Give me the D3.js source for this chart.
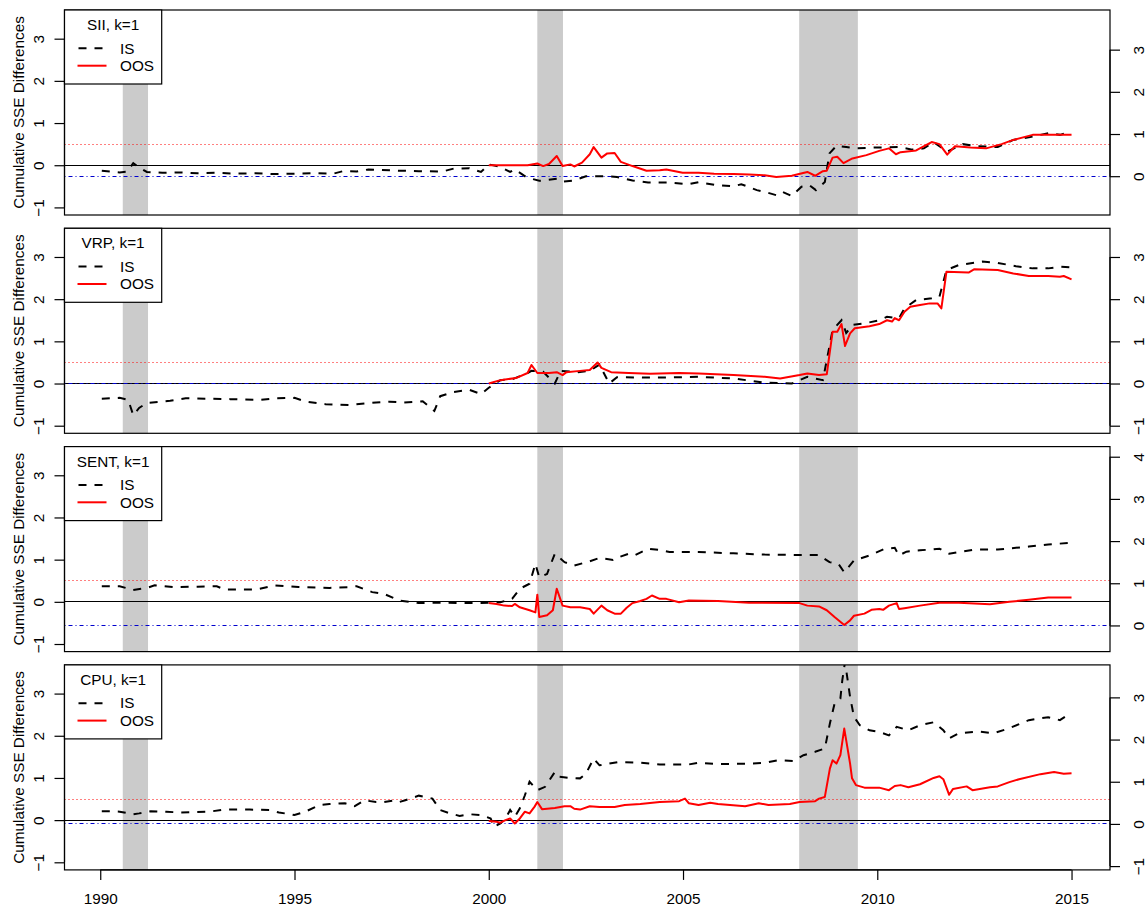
<!DOCTYPE html>
<html><head><meta charset="utf-8">
<script src="https://cdn.jsdelivr.net/npm/d3@7"></script>
<style>body{margin:0;background:#fff}svg text{font-family:"Liberation Sans",Arial,sans-serif;font-size:15.3px;fill:#000}</style>
</head><body><svg id="c" width="1147" height="906"></svg>
<script>
const panelNames = ["SII", "VRP", "SENT", "CPU"];
const rightOffsets = [0.26, 0, 0.56, 0.09];
const xTicks = [1990, 1995, 2000, 2005, 2010, 2015];
const leftTicks = [-1, 0, 1, 2, 3];
const recessions = [[1990.58, 1991.23], [2001.25, 2001.91], [2007.99, 2009.5]];
const redDotLevel = 0.5;

const siiIS = [[1990.04,-0.13],[1990.5,-0.17],[1990.7,-0.15],[1990.85,0.05],[1991.0,-0.05],[1991.2,-0.16],[1991.6,-0.18],[1992.0,-0.17],[1992.5,-0.19],[1993.0,-0.18],[1993.5,-0.2],[1994.0,-0.19],[1994.5,-0.21],[1995.0,-0.2],[1995.5,-0.19],[1996.0,-0.2],[1996.25,-0.14],[1996.6,-0.15],[1996.9,-0.1],[1997.2,-0.11],[1997.45,-0.12],[1997.7,-0.13],[1998.2,-0.14],[1998.8,-0.15],[1999.1,-0.08],[1999.5,-0.07],[1999.8,-0.16],[2000.0,0.02],[2000.3,-0.04],[2000.55,-0.16],[2000.67,-0.1],[2000.98,-0.29],[2001.3,-0.37],[2001.76,-0.32],[2001.9,-0.39],[2002.2,-0.36],[2002.5,-0.26],[2003.0,-0.26],[2003.3,-0.28],[2003.7,-0.36],[2004.1,-0.41],[2004.65,-0.41],[2005.15,-0.45],[2005.4,-0.4],[2005.85,-0.47],[2006.3,-0.5],[2006.5,-0.45],[2006.9,-0.59],[2007.1,-0.63],[2007.4,-0.71],[2007.55,-0.63],[2007.8,-0.73],[2008.05,-0.51],[2008.25,-0.47],[2008.42,-0.59],[2008.65,-0.4],[2008.77,0.28],[2008.95,0.46],[2009.2,0.43],[2009.46,0.4],[2009.97,0.42],[2010.56,0.43],[2010.9,0.37],[2011.2,0.4],[2011.45,0.55],[2011.8,0.32],[2012.2,0.5],[2012.6,0.45],[2013.1,0.43],[2013.5,0.6],[2013.9,0.66],[2014.4,0.76],[2014.7,0.72],[2015.0,0.8]];
const siiOOS = [[2000.0,0.0],[2000.5,0.0],[2001.0,0.0],[2001.25,0.04],[2001.4,-0.02],[2001.55,0.03],[2001.75,0.22],[2001.9,-0.02],[2002.1,0.02],[2002.2,-0.03],[2002.4,0.06],[2002.6,0.26],[2002.7,0.43],[2002.9,0.18],[2003.05,0.28],[2003.24,0.29],[2003.4,0.08],[2003.7,-0.02],[2004.06,-0.13],[2004.4,-0.12],[2004.57,-0.1],[2004.99,-0.18],[2005.4,-0.18],[2005.8,-0.2],[2006.3,-0.21],[2006.7,-0.22],[2007.1,-0.24],[2007.4,-0.28],[2007.8,-0.25],[2008.2,-0.16],[2008.4,-0.25],[2008.6,-0.14],[2008.7,-0.13],[2008.85,0.18],[2008.97,0.2],[2009.13,0.05],[2009.36,0.16],[2009.72,0.24],[2010.05,0.34],[2010.3,0.4],[2010.48,0.26],[2010.6,0.31],[2011.0,0.35],[2011.4,0.55],[2011.6,0.5],[2011.8,0.25],[2012.0,0.45],[2012.4,0.42],[2012.8,0.4],[2013.2,0.5],[2013.5,0.6],[2014.0,0.72],[2014.5,0.72],[2015.0,0.72]];
const vrpIS = [[1990.04,-0.36],[1990.5,-0.34],[1990.72,-0.39],[1990.85,-0.75],[1991.0,-0.58],[1991.2,-0.46],[1991.8,-0.41],[1992.2,-0.35],[1993.35,-0.37],[1994.1,-0.39],[1994.5,-0.35],[1995.0,-0.34],[1995.3,-0.43],[1995.8,-0.49],[1996.4,-0.51],[1997.1,-0.45],[1997.45,-0.43],[1997.8,-0.45],[1998.3,-0.42],[1998.6,-0.65],[1998.75,-0.3],[1999.1,-0.2],[1999.5,-0.15],[1999.8,-0.25],[2000.0,-0.1],[2000.3,0.08],[2000.6,0.1],[2001.0,0.25],[2001.1,0.3],[2001.4,0.28],[2001.7,0.0],[2001.85,0.3],[2002.3,0.27],[2002.6,0.3],[2002.85,0.45],[2003.1,0.0],[2003.3,0.15],[2004.0,0.14],[2005.0,0.15],[2005.4,0.16],[2006.3,0.12],[2007.1,0.02],[2007.8,0.0],[2008.2,0.16],[2008.6,0.08],[2008.85,1.27],[2009.08,1.5],[2009.2,1.2],[2009.37,1.39],[2009.7,1.43],[2010.05,1.5],[2010.25,1.58],[2010.56,1.55],[2010.7,1.78],[2011.0,1.98],[2011.4,2.02],[2011.6,2.06],[2011.78,2.69],[2012.1,2.81],[2012.7,2.89],[2013.1,2.86],[2013.57,2.78],[2014.0,2.73],[2014.4,2.73],[2014.72,2.77],[2015.0,2.75]];
const vrpOOS = [[2000.0,0.0],[2000.3,0.08],[2000.7,0.13],[2001.0,0.25],[2001.1,0.44],[2001.25,0.25],[2001.55,0.25],[2001.75,0.27],[2001.9,0.2],[2002.0,0.27],[2002.35,0.3],[2002.6,0.32],[2002.8,0.5],[2002.9,0.37],[2003.15,0.27],[2003.6,0.25],[2004.15,0.23],[2004.9,0.25],[2005.4,0.24],[2006.3,0.2],[2007.1,0.16],[2007.5,0.12],[2008.0,0.2],[2008.2,0.24],[2008.5,0.2],[2008.7,0.22],[2008.85,1.23],[2008.97,1.23],[2009.08,1.41],[2009.17,0.89],[2009.3,1.19],[2009.42,1.31],[2009.8,1.36],[2010.05,1.41],[2010.25,1.5],[2010.38,1.47],[2010.45,1.55],[2010.56,1.5],[2010.7,1.7],[2010.85,1.82],[2011.1,1.86],[2011.35,1.9],[2011.55,1.9],[2011.65,1.78],[2011.78,2.65],[2012.35,2.63],[2012.5,2.71],[2013.1,2.69],[2013.5,2.61],[2013.9,2.55],[2014.4,2.55],[2014.7,2.53],[2014.8,2.55],[2015.0,2.47]];
const sentIS = [[1990.04,0.37],[1990.5,0.37],[1990.85,0.28],[1991.2,0.33],[1991.4,0.39],[1991.9,0.35],[1992.5,0.36],[1993.0,0.37],[1993.2,0.29],[1994.0,0.29],[1994.5,0.39],[1995.1,0.35],[1995.9,0.33],[1996.4,0.35],[1996.6,0.37],[1997.0,0.23],[1997.3,0.19],[1997.6,0.07],[1997.7,0.03],[1998.2,-0.03],[1998.7,-0.02],[1999.25,-0.03],[1999.8,-0.03],[2000.3,-0.01],[2000.6,0.07],[2000.8,0.31],[2001.05,0.43],[2001.2,0.9],[2001.3,0.58],[2001.5,0.66],[2001.7,1.14],[2001.8,1.06],[2001.95,0.94],[2002.2,0.86],[2002.6,0.96],[2002.85,1.04],[2003.2,0.99],[2003.35,1.06],[2003.6,1.14],[2003.75,1.1],[2004.1,1.26],[2004.4,1.23],[2004.65,1.18],[2005.4,1.18],[2006.3,1.15],[2007.1,1.12],[2008.0,1.11],[2008.5,1.11],[2008.77,0.94],[2009.0,0.9],[2009.15,0.7],[2009.4,0.98],[2009.8,1.1],[2010.2,1.26],[2010.45,1.28],[2010.56,1.1],[2010.75,1.19],[2011.1,1.22],[2011.6,1.26],[2011.85,1.14],[2012.5,1.24],[2013.1,1.24],[2013.9,1.31],[2014.4,1.36],[2015.0,1.4]];
const sentOOS = [[2000.0,-0.03],[2000.2,-0.05],[2000.4,-0.09],[2000.6,-0.1],[2000.67,-0.05],[2000.8,-0.13],[2001.05,-0.2],[2001.2,-0.25],[2001.25,0.17],[2001.3,-0.36],[2001.5,-0.32],[2001.65,-0.2],[2001.75,0.31],[2001.9,-0.09],[2002.1,-0.13],[2002.35,-0.13],[2002.6,-0.17],[2002.7,-0.28],[2002.9,-0.09],[2003.05,-0.2],[2003.24,-0.28],[2003.4,-0.28],[2003.55,-0.14],[2003.7,-0.03],[2003.9,0.02],[2004.06,0.07],[2004.2,0.15],[2004.4,0.07],[2004.57,0.07],[2004.9,-0.01],[2005.15,0.03],[2005.9,0.02],[2006.7,-0.02],[2008.0,-0.03],[2008.2,-0.09],[2008.5,-0.11],[2008.7,-0.2],[2008.9,-0.36],[2009.15,-0.55],[2009.3,-0.44],[2009.4,-0.33],[2009.67,-0.28],[2009.85,-0.19],[2010.05,-0.17],[2010.15,-0.19],[2010.3,-0.09],[2010.5,-0.03],[2010.56,-0.17],[2010.7,-0.15],[2011.1,-0.09],[2011.6,-0.02],[2012.1,-0.02],[2012.9,-0.06],[2013.4,0.0],[2013.9,0.05],[2014.4,0.1],[2015.0,0.1]];
const cpuIS = [[1990.04,0.21],[1990.25,0.21],[1990.5,0.2],[1990.85,0.14],[1991.0,0.16],[1991.3,0.21],[1991.7,0.2],[1992.05,0.18],[1992.8,0.2],[1993.2,0.25],[1993.85,0.25],[1994.35,0.24],[1994.6,0.18],[1994.9,0.14],[1995.0,0.12],[1995.3,0.21],[1995.65,0.36],[1995.9,0.38],[1996.3,0.4],[1996.55,0.33],[1996.8,0.47],[1997.1,0.43],[1997.3,0.43],[1997.6,0.47],[1997.7,0.43],[1997.85,0.47],[1998.2,0.58],[1998.55,0.51],[1998.75,0.24],[1999.0,0.16],[1999.25,0.1],[1999.5,0.14],[1999.8,0.12],[2000.05,0.04],[2000.13,-0.16],[2000.3,-0.08],[2000.43,0.04],[2000.55,0.24],[2000.67,0.08],[2000.8,0.28],[2000.93,0.59],[2001.05,0.91],[2001.25,0.71],[2001.45,0.79],[2001.7,1.14],[2001.8,1.03],[2002.1,1.0],[2002.35,0.99],[2002.5,1.1],[2002.7,1.46],[2002.85,1.3],[2003.1,1.34],[2003.35,1.38],[2003.9,1.36],[2004.4,1.32],[2005.15,1.32],[2005.4,1.36],[2005.9,1.33],[2006.7,1.34],[2007.1,1.36],[2007.45,1.42],[2007.85,1.4],[2008.1,1.54],[2008.4,1.62],[2008.65,1.7],[2008.78,2.29],[2008.9,2.76],[2009.05,2.88],[2009.1,3.32],[2009.17,3.75],[2009.3,2.92],[2009.4,2.45],[2009.55,2.25],[2009.8,2.13],[2010.05,2.09],[2010.3,2.01],[2010.5,2.21],[2010.8,2.13],[2011.1,2.25],[2011.45,2.32],[2011.7,2.13],[2011.85,1.94],[2012.1,2.06],[2012.6,2.1],[2013.0,2.06],[2013.4,2.18],[2013.9,2.37],[2014.4,2.44],[2014.7,2.37],[2014.85,2.46],[2015.0,2.44]];
const cpuOOS = [[2000.0,-0.02],[2000.2,-0.04],[2000.3,-0.06],[2000.43,0.0],[2000.55,0.04],[2000.67,-0.08],[2000.8,0.04],[2000.93,0.2],[2001.05,0.16],[2001.18,0.32],[2001.25,0.43],[2001.37,0.26],[2001.7,0.29],[2001.95,0.33],[2002.1,0.33],[2002.2,0.27],[2002.35,0.25],[2002.6,0.33],[2002.85,0.31],[2003.24,0.31],[2003.5,0.36],[2003.9,0.38],[2004.4,0.43],[2004.9,0.45],[2005.05,0.51],[2005.15,0.4],[2005.4,0.36],[2005.7,0.41],[2005.9,0.38],[2006.6,0.33],[2006.95,0.4],[2007.2,0.36],[2007.75,0.38],[2008.0,0.43],[2008.4,0.45],[2008.5,0.51],[2008.65,0.55],[2008.78,1.22],[2008.85,1.42],[2008.95,1.34],[2009.05,1.54],[2009.15,2.17],[2009.3,1.34],[2009.35,0.99],[2009.45,0.83],[2009.67,0.77],[2010.05,0.77],[2010.3,0.71],[2010.45,0.81],[2010.6,0.83],[2010.8,0.78],[2011.1,0.85],[2011.45,1.0],[2011.6,1.04],[2011.7,0.97],[2011.85,0.6],[2011.95,0.74],[2012.3,0.8],[2012.45,0.71],[2012.9,0.78],[2013.1,0.8],[2013.4,0.9],[2013.65,0.97],[2014.2,1.09],[2014.55,1.14],[2014.8,1.1],[2015.0,1.11]];

const isSeries = [siiIS, vrpIS, sentIS, cpuIS];
const oosSeries = [siiOOS, vrpOOS, sentOOS, cpuOOS];

const svg = d3.select("#c");
const L = 64.5, R = 1110;
const x = d3.scaleLinear().domain([1989.08, 2015.99]).range([L, R]);
const panelTop0 = 10, panelStep = 218.3, panelH = 205;
const yDomain = [-1.18, 3.68];
const crisp = v => Math.round(v - 0.5) + 0.5;

panelNames.forEach((name, i) => {
  const top = panelTop0 + i * panelStep, bot = top + panelH;
  const y = d3.scaleLinear().domain(yDomain).range([bot, top]);
  const off = rightOffsets[i];
  const yr = d3.scaleLinear().domain([yDomain[0] + off, yDomain[1] + off]).range([bot, top]);
  const g = svg.append("g");
  const cid = "clip" + i;
  svg.append("clipPath").attr("id", cid).append("rect").attr("x", L).attr("y", top).attr("width", R - L).attr("height", panelH);
  const pg = g.append("g").attr("clip-path", `url(#${cid})`);

  pg.selectAll("rect.band").data(recessions).join("rect")
    .attr("x", d => x(d[0])).attr("width", d => x(d[1]) - x(d[0]))
    .attr("y", top).attr("height", panelH).attr("fill", "#cbcbcb");

  pg.append("line").attr("x1", L).attr("x2", R).attr("y1", crisp(y(0))).attr("y2", crisp(y(0))).attr("stroke", "#000").attr("stroke-width", 1.2);
  pg.append("line").attr("x1", L).attr("x2", R).attr("y1", crisp(y(redDotLevel))).attr("y2", crisp(y(redDotLevel))).attr("stroke", "#ff0000").attr("stroke-width", 1).attr("stroke-dasharray", "1,3");
  pg.append("line").attr("x1", L).attr("x2", R).attr("y1", crisp(yr(0))).attr("y2", crisp(yr(0))).attr("stroke", "#0000cd").attr("stroke-width", 1.2).attr("stroke-dasharray", "1,3,4,3");

  const line = d3.line().x(d => x(d[0])).y(d => y(d[1]));
  pg.append("path").datum(isSeries[i]).attr("d", line).attr("fill", "none").attr("stroke", "#000").attr("stroke-width", 2).attr("stroke-dasharray", "8,8");
  pg.append("path").datum(oosSeries[i]).attr("d", line).attr("fill", "none").attr("stroke", "#ff0000").attr("stroke-width", 2).attr("stroke-linejoin", "round");

  g.append("rect").attr("x", L).attr("y", top).attr("width", R - L).attr("height", panelH).attr("fill", "none").attr("stroke", "#000").attr("stroke-width", 1.2);

  const la = g.append("g").attr("transform", `translate(${L},0)`).call(d3.axisLeft(y).tickValues(leftTicks).tickSize(10).tickFormat(d => d < 0 ? "\u2212" + Math.abs(d) : d));
  la.select(".domain").attr("d", `M-0,${y(-1)}V${y(3)}`).attr("stroke-width", 1.2);
  la.selectAll(".tick line").attr("stroke-width", 1.2);
  la.selectAll(".tick text").attr("font-size", null).attr("font-family", null)
    .attr("x", 0).attr("dy", null).attr("text-anchor", "middle")
    .attr("transform", "translate(-21,0) rotate(-90)");

  const rt = d3.range(-1, 6).filter(v => yr(v) >= top - 0.5 && yr(v) <= bot + 0.5);
  const ra = g.append("g").attr("transform", `translate(${R},0)`).call(d3.axisRight(yr).tickValues(rt).tickSize(10).tickFormat(d => d < 0 ? "\u2212" + Math.abs(d) : d));
  ra.select(".domain").attr("d", `M0,${yr(rt[0])}V${yr(rt[rt.length - 1])}`).attr("stroke-width", 1.2);
  ra.selectAll(".tick line").attr("stroke-width", 1.2);
  ra.selectAll(".tick text").attr("font-size", null).attr("font-family", null)
    .attr("x", 0).attr("dy", null).attr("text-anchor", "middle")
    .attr("transform", "translate(34,0) rotate(-90)");

  svg.append("text").attr("transform", `translate(24,${(top + bot) / 2}) rotate(-90)`).attr("text-anchor", "middle").text("Cumulative SSE Differences");

  const lg = g.append("g").attr("transform", `translate(${L},${top})`);
  lg.append("rect").attr("x", 0).attr("y", 0).attr("width", 97.2).attr("height", 74).attr("fill", "#fff").attr("stroke", "#000").attr("stroke-width", 1.2);
  lg.append("text").attr("x", 48.6).attr("y", 20).attr("text-anchor", "middle").text(name + ", k=1");
  lg.append("line").attr("x1", 13).attr("x2", 42).attr("y1", 38.3).attr("y2", 38.3).attr("stroke", "#000").attr("stroke-width", 2).attr("stroke-dasharray", "8,8").attr("stroke-dashoffset", -1);
  lg.append("text").attr("x", 55.5).attr("y", 43.5).text("IS");
  lg.append("line").attr("x1", 13).attr("x2", 42).attr("y1", 55.7).attr("y2", 55.7).attr("stroke", "#ff0000").attr("stroke-width", 2);
  lg.append("text").attr("x", 55.5).attr("y", 61).text("OOS");

  if (i === panelNames.length - 1) {
    const xa = g.append("g").attr("transform", `translate(0,${bot})`).call(d3.axisBottom(x).tickValues(xTicks).tickSize(10).tickFormat(d3.format("d")));
    xa.select(".domain").attr("d", `M${x(1990)},0H${x(2015)}`).attr("stroke-width", 1.2);
    xa.selectAll(".tick line").attr("stroke-width", 1.2);
    xa.selectAll(".tick text").attr("font-size", null).attr("font-family", null).attr("dy", null).attr("y", 34);
  }
});
</script></body></html>
